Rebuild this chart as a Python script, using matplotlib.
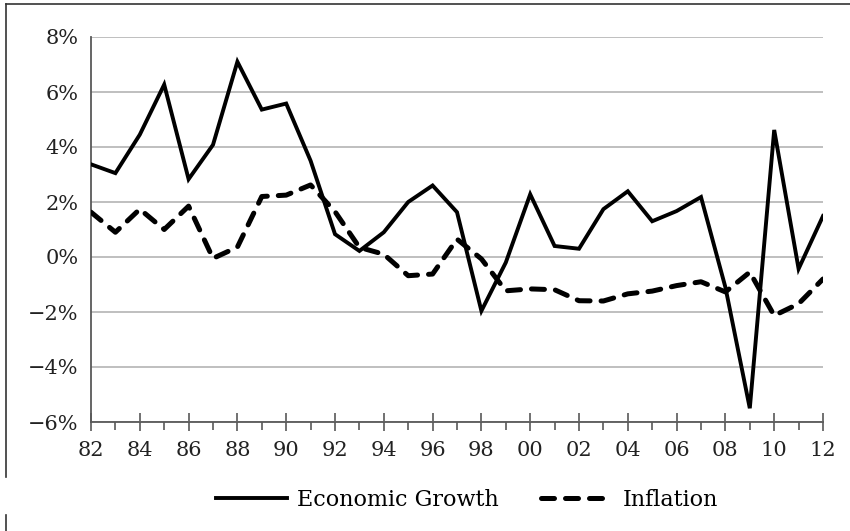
import matplotlib
matplotlib.use("Agg")
import matplotlib.pyplot as plt
from matplotlib.lines import Line2D
from matplotlib.ticker import MultipleLocator, FixedLocator

years = list(range(1982, 2013))
growth = [3.37, 3.05, 4.45, 6.27, 2.83, 4.08, 7.1, 5.36, 5.58, 3.5,
          0.83, 0.22, 0.9, 2.0, 2.6, 1.63, -1.96, -0.2, 2.28, 0.4,
          0.3, 1.74, 2.39, 1.3, 1.67, 2.18, -1.1, -5.5, 4.62, -0.43,
          1.49]
inflation = [1.63, 0.9, 1.74, 1.0, 1.85, -0.05, 0.36, 2.2, 2.25, 2.62,
             1.65, 0.35, 0.1, -0.68, -0.62, 0.65, -0.07, -1.23, -1.16, -1.19,
             -1.59, -1.6, -1.34, -1.24, -1.04, -0.9, -1.27, -0.55, -2.13, -1.7,
             -0.8]
major_years = list(range(1982, 2013, 2))
xtick_labels = [f"{y % 100:02d}" for y in major_years]
yticks = [-6, -4, -2, 0, 2, 4, 6, 8]
ytick_labels = [(f"\u2212{-v}%" if v < 0 else f"{v}%") for v in yticks]

plt.rcParams['font.family'] = ['DejaVu Serif']

fig = plt.figure(figsize=(8.5, 5.31), dpi=100)
ax = fig.add_axes([91/850, 1-422/531, (823-91)/850, (422-37)/531])

ax.plot(years, inflation, color='black', lw=3.6, linestyle=(0, (2.6, 2.2)),
        dash_capstyle='round', solid_joinstyle='round', label='Inflation', zorder=3)
ax.plot(years, growth, color='black', lw=2.8, solid_joinstyle='miter',
        label='Economic Growth', zorder=4)

ax.set_xlim(1982, 2012)
ax.set_ylim(-6, 8)
ax.set_yticks(yticks)
ax.set_yticklabels(ytick_labels)
ax.set_xticks(major_years)
ax.set_xticklabels(xtick_labels)
ax.xaxis.set_minor_locator(FixedLocator([y for y in years if y % 2 == 1]))

ax.grid(axis='y', color='#bfbfbf', lw=1.4)
ax.set_axisbelow(True)
for s in ['top', 'right']:
    ax.spines[s].set_visible(False)
for s in ['left', 'bottom']:
    ax.spines[s].set_color('#595959')
    ax.spines[s].set_linewidth(1.3)

ax.tick_params(axis='y', length=0, pad=9, labelsize=15, labelcolor='#222222')
ax.tick_params(axis='x', which='major', direction='inout', length=13, width=1.2,
               color='#595959', pad=7, labelsize=15, labelcolor='#222222')
ax.tick_params(axis='x', which='minor', direction='out', length=5.5, width=1.2,
               color='#595959')

handles, labels = ax.get_legend_handles_labels()
order = [1, 0]
fig.legend([handles[i] for i in order], [labels[i] for i in order],
           loc='center', bbox_to_anchor=(467/850, 1-500/531), ncol=2,
           frameon=False, fontsize=16, handlelength=3.2, handletextpad=0.45,
           columnspacing=1.9)

# outer frame remnants
fig.add_artist(Line2D([6/850, 1.0], [1-4/531, 1-4/531], color='#333333', lw=1.2))
fig.add_artist(Line2D([6/850, 6/850], [1-4/531, 1-477/531], color='#333333', lw=1.2))
fig.add_artist(Line2D([6/850, 6/850], [1-515/531, 0.0], color='#333333', lw=1.2))

fig.savefig("out.png", dpi=100)
